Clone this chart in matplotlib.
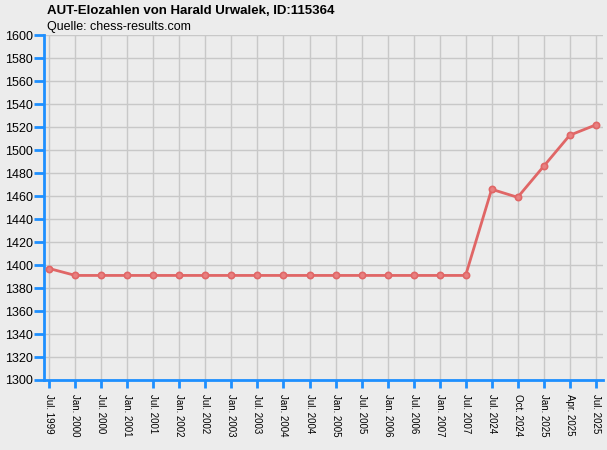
import matplotlib
matplotlib.use("Agg")
import matplotlib.pyplot as plt

labels = ["Jul. 1999", "Jan. 2000", "Jul. 2000", "Jan. 2001", "Jul. 2001", "Jan. 2002",
          "Jul. 2002", "Jan. 2003", "Jul. 2003", "Jan. 2004", "Jul. 2004", "Jan. 2005",
          "Jul. 2005", "Jan. 2006", "Jul. 2006", "Jan. 2007", "Jul. 2007", "Jul. 2024",
          "Oct. 2024", "Jan. 2025", "Apr. 2025", "Jul. 2025"]
elo = [1397, 1391, 1391, 1391, 1391, 1391, 1391, 1391, 1391, 1391, 1391, 1391,
       1391, 1391, 1391, 1391, 1391, 1466, 1459, 1486, 1513, 1522]
yticks = list(range(1300, 1601, 20))

plt.rcParams['font.family'] = ['Liberation Sans', 'DejaVu Sans']
bg = '#ececec'
blue = '#1e8fff'
fig = plt.figure(figsize=(6.07, 4.5), dpi=100, facecolor=bg)
ax = fig.add_axes([44/607, 1-380/450, (603-44)/607, (380-35.3)/450], facecolor=bg)

x = list(range(len(labels)))
ax.plot(x, elo, color='#e06666', lw=2, marker='o', ms=4.5,
        markerfacecolor='#e88080', markeredgecolor='#e06666', markeredgewidth=1.2, zorder=3)

ax.set_xlim(-0.204, len(labels) - 1 + 0.28)
ax.set_ylim(1300, 1600)
ax.set_yticks(yticks)
ax.set_xticks(x)
ax.set_xticklabels(labels, rotation=270, ha='center', va='top', fontsize=7)
ax.tick_params(axis='y', direction='out', length=7, width=2, color=blue, labelsize=9, pad=1)
ax.tick_params(axis='x', direction='out', length=6, width=2, color=blue, pad=4)
ax.grid(True, color='#c8c8c8', lw=1)
ax.set_axisbelow(True)
for s in ['top', 'right']:
    ax.spines[s].set_visible(False)
for s in ['left', 'bottom']:
    ax.spines[s].set_color(blue)
    ax.spines[s].set_linewidth(2)

fig.text(47/607, 1-11/450, "AUT-Elozahlen von Harald Urwalek, ID:115364",
         fontsize=9.5, fontweight='bold', va='center', ha='left')
fig.text(47/607, 1-27/450, "Quelle: chess-results.com", fontsize=9, va='center', ha='left')

fig.savefig("out.png", dpi=100, facecolor=bg)
